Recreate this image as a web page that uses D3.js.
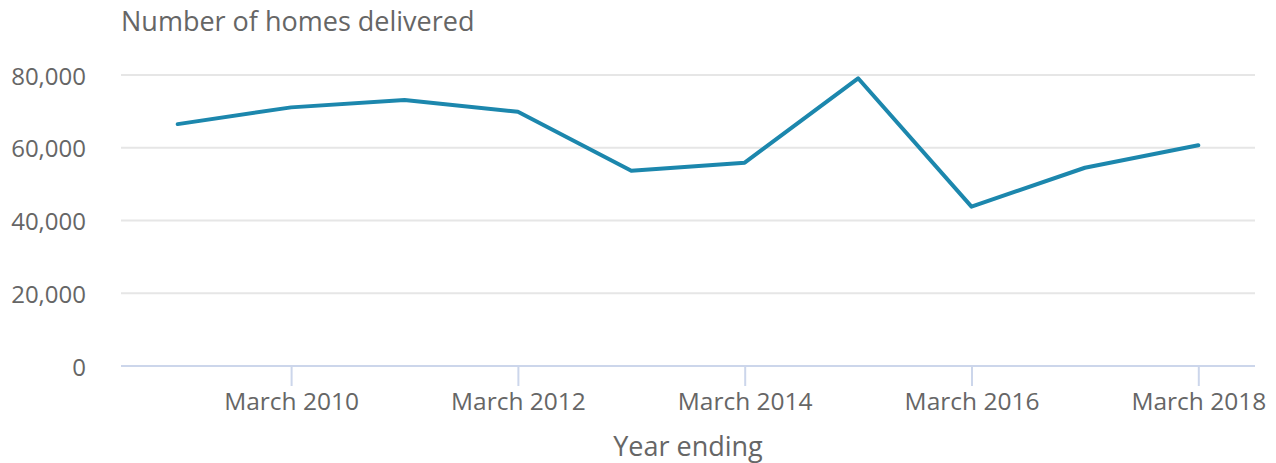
<!DOCTYPE html>
<html>
<head>
<meta charset="utf-8">
<script src="https://cdn.jsdelivr.net/npm/d3@7"></script>
<style>
  body { margin: 0; background: #fff; }
  svg text { font-family: "Open Sans", sans-serif; fill: #666; }
</style>
</head>
<body>
<div id="canvas" class="canvas" style="width:1276px;height:463px;"></div>
<script>
// data
var years = ['2009','2010','2011','2012','2013','2014','2015','2016','2017','2018'];
var homes = [66500, 71100, 73100, 69900, 53700, 55900, 79100, 43800, 54500, 60700];
var yTicks = [0, 20000, 40000, 60000, 80000];
var xTickYears = ['2010','2012','2014','2016','2018'];

var m = {t:75, r:21, b:97, l:121},
    W = 1276, H = 463,
    w = W - m.l - m.r,
    h = H - m.t - m.b;

var svg = d3.select('.canvas')
    .append('svg')
    .attr('width', W)
    .attr('height', H);

var plot = svg.append('g')
    .attr('transform','translate('+ m.l+','+ m.t+')');

var x = d3.scalePoint().domain(years).range([0, w]).padding(0.5);
var y = d3.scaleLinear().domain([0, 80000]).range([h, 0]);

//gridlines
plot.selectAll('.grid')
    .data(yTicks.filter(function(d){ return d > 0; }))
    .enter().append('line')
    .attr('x1', 0).attr('x2', w)
    .attr('y1', function(d){ return y(d); })
    .attr('y2', function(d){ return y(d); })
    .attr('stroke', '#e6e6e6')
    .attr('stroke-width', 2);

//y labels
plot.selectAll('.ylab')
    .data(yTicks)
    .enter().append('text')
    .attr('x', -35)
    .attr('y', function(d){ return y(d) + 9.5; })
    .attr('text-anchor', 'end')
    .style('font-size', '24px')
    .text(function(d){ return d3.format(',')(d); });

//x axis
var xAxis = d3.axisBottom(x)
    .tickValues(xTickYears)
    .tickSize(20)
    .tickPadding(7)
    .tickFormat(function(d){ return 'March ' + d; });

var gx = plot.append('g')
    .attr('transform', 'translate(0,' + h + ')')
    .call(xAxis);
gx.select('.domain').remove();
gx.selectAll('line').attr('stroke', '#ccd6eb').attr('stroke-width', 2);
gx.selectAll('text').style('font-size', '24.5px').attr('fill', '#666');
gx.append('line')
    .attr('x1', 0).attr('x2', w)
    .attr('stroke', '#ccd6eb').attr('stroke-width', 2);

//line
var line = d3.line()
    .x(function(d, i){ return x(years[i]); })
    .y(function(d){ return y(d); });

plot.append('path')
    .datum(homes)
    .attr('d', line)
    .attr('fill', 'none')
    .attr('stroke', '#1c87ad')
    .attr('stroke-width', 4)
    .attr('stroke-linejoin', 'round')
    .attr('stroke-linecap', 'round');

//titles
svg.append('text')
    .attr('x', m.l)
    .attr('y', 31)
    .style('font-size', '27px')
    .text('Number of homes delivered');

svg.append('text')
    .attr('x', m.l + w/2)
    .attr('y', 456)
    .attr('text-anchor', 'middle')
    .style('font-size', '27px')
    .text('Year ending');
</script>
</body>
</html>
